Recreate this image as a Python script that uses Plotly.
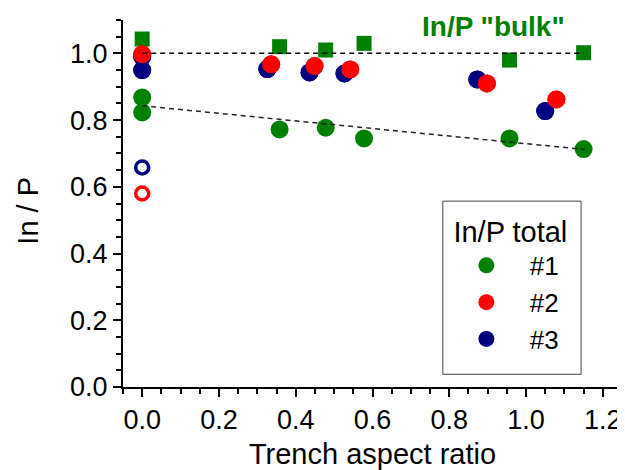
import plotly.graph_objects as go

# ---- data ----
# In/P "bulk" (green squares)
bulk_x = [0.0, 0.358, 0.478, 0.578, 0.957, 1.150]
bulk_y = [1.043, 1.020, 1.010, 1.030, 0.980, 1.002]

# In/P total #1 (green)
t1_x = [0.0, 0.0, 0.358, 0.478, 0.578, 0.957, 1.150]
t1_y = [0.868, 0.823, 0.772, 0.777, 0.745, 0.745, 0.713]

# In/P total #2 (red)
t2_x = [0.0, 0.336, 0.449, 0.542, 0.898, 1.079]
t2_y = [0.997, 0.967, 0.962, 0.952, 0.910, 0.862]

# In/P total #3 (navy)
t3_x = [0.0, 0.0, 0.326, 0.436, 0.527, 0.873, 1.050]
t3_y = [0.990, 0.950, 0.953, 0.943, 0.940, 0.922, 0.827]

# open circles at x = 0
open2_x = [0.0]
open2_y = [0.580]
open3_x = [0.0]
open3_y = [0.658]

# guide lines
bulk_line_x = [0.0, 1.15]
bulk_line_y = [1.0, 1.0]
total_line_x = [0.0, 1.152]
total_line_y = [0.843, 0.712]

GREEN = "#008000"
RED = "#FF0000"
NAVY = "#000080"
FONT = "Liberation Sans, Arial, sans-serif"

fig = go.Figure()

fig.add_trace(go.Scatter(x=bulk_x, y=bulk_y, mode="markers", showlegend=False,
                         marker=dict(symbol="square", size=15, color=GREEN, line=dict(width=0))))
fig.add_trace(go.Scatter(x=t1_x, y=t1_y, mode="markers", name="#1",
                         marker=dict(symbol="circle", size=18, color=GREEN, line=dict(width=0))))
fig.add_trace(go.Scatter(x=t3_x, y=t3_y, mode="markers", name="#3", showlegend=False,
                         legendgroup="g3",
                         marker=dict(symbol="circle", size=18, color=NAVY, line=dict(width=0))))
fig.add_trace(go.Scatter(x=t2_x, y=t2_y, mode="markers", name="#2",
                         marker=dict(symbol="circle", size=18, color=RED, line=dict(width=0))))
# legend entry for #3 (same data, placed after #2 in legend order)
fig.add_trace(go.Scatter(x=t3_x, y=t3_y, mode="markers", name="#3", legendgroup="g3",
                         marker=dict(symbol="circle", size=18, color=NAVY, line=dict(width=0))))
fig.add_trace(go.Scatter(x=t2_x, y=t2_y, mode="markers", showlegend=False,
                         marker=dict(symbol="circle", size=18, color=RED, line=dict(width=0))))
fig.add_trace(go.Scatter(x=open3_x, y=open3_y, mode="markers", showlegend=False,
                         marker=dict(symbol="circle-open", size=13, color=NAVY, line=dict(width=3.5, color=NAVY))))
fig.add_trace(go.Scatter(x=open2_x, y=open2_y, mode="markers", showlegend=False,
                         marker=dict(symbol="circle-open", size=13, color=RED, line=dict(width=3.5, color=RED))))
fig.add_trace(go.Scatter(x=bulk_line_x, y=bulk_line_y, mode="lines", showlegend=False,
                         line=dict(color="black", width=1.5, dash="5px,4px")))
fig.add_trace(go.Scatter(x=total_line_x, y=total_line_y, mode="lines", showlegend=False,
                         line=dict(color="#222222", width=1.5, dash="5px,4px")))

fig.add_annotation(text='<b>In/P "bulk"</b>', xref="paper", yref="paper",
                   x=0.743, y=0.982, xanchor="center", yanchor="middle", showarrow=False,
                   font=dict(family=FONT, size=28, color=GREEN))

# y-axis title
fig.add_annotation(text="In / P", xref="paper", yref="paper", textangle=-90,
                   x=-0.19, y=0.481, xanchor="center", yanchor="middle", showarrow=False,
                   font=dict(family=FONT, size=29, color="black"))

# legend frame
fig.add_shape(type="rect", xref="paper", yref="paper",
              x0=0.641, x1=0.918, y0=0.0346, y1=0.5064,
              line=dict(color="#444444", width=1), fillcolor="rgba(0,0,0,0)", layer="above")

axis_common = dict(showgrid=False, zeroline=False, showline=True, linecolor="black", linewidth=2,
                   ticks="outside", ticklen=8, tickwidth=2, tickcolor="black",
                   tickfont=dict(family=FONT, size=27, color="black"),
                   mirror=False)

fig.update_xaxes(range=[-0.05, 1.25], dtick=0.2, tick0=0, tickformat=".1f",
                 title=dict(text="Trench aspect ratio", font=dict(family=FONT, size=29, color="black"), standoff=10),
                 minor=dict(dtick=0.05, tick0=0, ticks="outside", ticklen=5, tickwidth=1.5, tickcolor="black"),
                 **axis_common)
fig.update_yaxes(range=[0, 1.1], dtick=0.2, tick0=0, tickformat=".1f",
                 minor=dict(dtick=0.05, tick0=0, ticks="outside", ticklen=5, tickwidth=1.5, tickcolor="black"),
                 **axis_common)

# the page body adds an 8px offset; size the figure so the plot lands where the reference has it
fig.update_layout(
    width=617, height=462,
    margin=dict(l=115, r=3, t=12, b=83),
    paper_bgcolor="white", plot_bgcolor="white",
    font=dict(family=FONT, size=28, color="black"),
    legend=dict(x=0.641, y=0.498, xanchor="left", yanchor="top",
                borderwidth=0, bgcolor="rgba(0,0,0,0)",
                title=dict(text="\u00a0In/P total\u00a0", side="top center", font=dict(family=FONT, size=29)),
                font=dict(family=FONT, size=26), itemwidth=77,
                traceorder="normal"),
)

fig.write_html("out.html")
